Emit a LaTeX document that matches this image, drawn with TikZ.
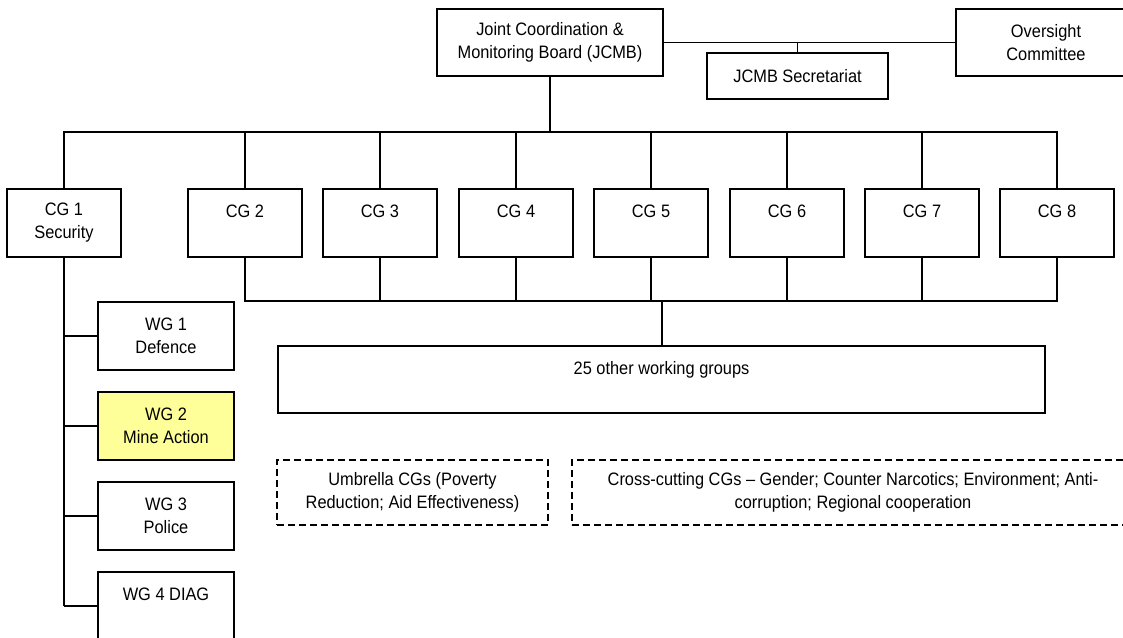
\documentclass[tikz,border=0pt]{standalone}
\usepackage{fontspec}
\setmainfont{Liberation Sans}[FakeStretch=0.91]
\definecolor{wgyellow}{RGB}{255,255,153}
\begin{document}
\begin{tikzpicture}[x=1pt,y=-1pt,
  box/.style={draw=black,line width=1.4pt,rectangle,inner sep=0pt,align=center,
    font=\fontsize{18}{23}\selectfont,text=black},
  dbox/.style={box,dash pattern=on 7pt off 4pt},
  link/.style={line width=1.4pt},
  thick link/.style={line width=2pt}]
\useasboundingbox (0,0) rectangle (1123,637);
\clip (0,0) rectangle (1123,637);
% top level
\node[box,minimum width=226pt,minimum height=67pt] (jcmb) at (550,42.5) {Joint Coordination \&\\Monitoring Board (JCMB)};
\node[box,minimum width=181pt,minimum height=46pt] (sec) at (797.5,76) {JCMB Secretariat};
\node[box,minimum width=180pt,minimum height=67pt] (over) at (1046,42.5) {Oversight\\Committee};
% consultative groups
\node[box,minimum width=114pt,minimum height=68pt] (cg1) at (64,223) {CG 1\\Security};
\foreach \i/\x in {2/245,3/380,4/516,5/651,6/787,7/922,8/1057}{
  \node[box,minimum width=114pt,minimum height=68pt] (cg\i) at (\x,223) {CG \i\\\phantom{X}};
}
% working groups of CG1
\node[box,minimum width=136pt,minimum height=68pt] (wg1) at (166,336) {WG 1\\Defence};
\node[box,fill=wgyellow,minimum width=136pt,minimum height=68pt] (wg2) at (166,426) {WG 2\\Mine Action};
\node[box,minimum width=136pt,minimum height=68pt] (wg3) at (166,516) {WG 3\\Police};
\node[box,minimum width=136pt,minimum height=68pt] (wg4) at (166,606) {WG 4 DIAG\\\phantom{X}};
% other working groups
\node[box,minimum width=767pt,minimum height=67pt] (wgo) at (661.5,379.5) {25 other working groups\\\phantom{X}};
% dashed boxes
\node[dbox,minimum width=271pt,minimum height=65pt] (umb) at (412.5,492.5) {Umbrella CGs (Poverty\\Reduction; Aid Effectiveness)};
\node[dbox,minimum width=562pt,minimum height=65pt] (cross) at (853,492.5) {Cross-cutting CGs -- Gender; Counter Narcotics; Environment; Anti-\\corruption; Regional cooperation};
% connectors top
\draw[link] (jcmb.east) -- (over.west);
\draw[link] (sec.north) -- (sec.north |- jcmb.east);
\coordinate (tb) at (0,132);
\coordinate (bb) at (0,301);
\draw[thick link] (jcmb.south) -- (jcmb.south |- tb);
\draw[link] (cg1.north) |- (tb -| cg8.north) -- (cg8.north);
\foreach \i in {2,...,7}{
  \draw[link] (cg\i.north) -- (cg\i.north |- tb);
}
% bottom bus
\draw[link] (cg2.south) |- (bb -| cg8.south) -- (cg8.south);
\foreach \i in {3,...,7}{
  \draw[link] (cg\i.south) -- (cg\i.south |- bb);
}
\draw[thick link] (bb -| wgo.north) -- (wgo.north);
% CG1 tree
\draw[thick link] (cg1.south) -- (cg1.south |- wg4.west);
\foreach \i in {1,...,4}{
  \draw[link] (wg\i.west) -- (wg\i.west -| cg1.south);
}
\end{tikzpicture}
\end{document}
